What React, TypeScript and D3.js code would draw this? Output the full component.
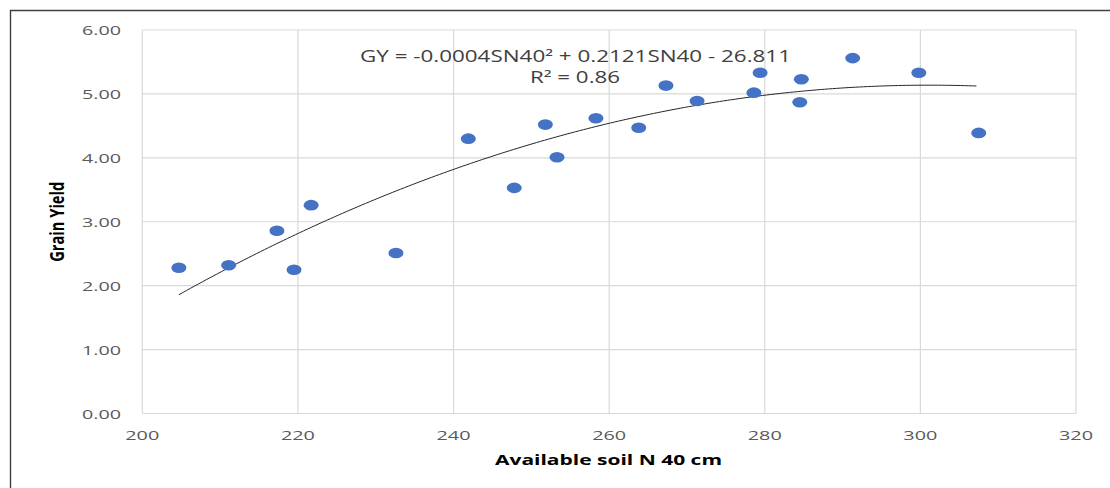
import React from "react";
import * as d3 from "d3";

// available soil N at 40 cm vs grain yield
const soilN = [
  204.7, 211.1, 217.3, 219.5, 221.7, 232.6, 241.9, 247.8, 251.8, 253.3, 258.3,
  263.8, 267.3, 271.3, 278.6, 279.4, 284.7, 284.5, 291.3, 299.8, 307.5,
];
const grainYield = [
  2.28, 2.32, 2.86, 2.25, 3.26, 2.51, 4.3, 3.53, 4.52, 4.01, 4.62, 4.47, 5.13,
  4.89, 5.02, 5.33, 5.23, 4.87, 5.56, 5.33, 4.39,
];
const xTicks = [200, 220, 240, 260, 280, 300, 320];
const yTicks = [0, 1, 2, 3, 4, 5, 6];
const equationText = "GY = -0.0004SN40² + 0.2121SN40 - 26.811";
const r2Text = "R² = 0.86";

// least squares quadratic fit for the trend line
function quadFit(xs: number[], ys: number[]) {
  const n = xs.length;
  const mx = d3.mean(xs) as number;
  let s = [0, 0, 0, 0, 0];
  let t = [0, 0, 0];
  xs.forEach((x0, i) => {
    const x = x0 - mx;
    let p = 1;
    for (let k = 0; k < 5; k++) {
      s[k] += p;
      if (k < 3) t[k] += p * ys[i];
      p *= x;
    }
  });
  // solve 3x3 normal equations
  const A = [
    [s[0], s[1], s[2], t[0]],
    [s[1], s[2], s[3], t[1]],
    [s[2], s[3], s[4], t[2]],
  ];
  for (let c = 0; c < 3; c++) {
    for (let r = c + 1; r < 3; r++) {
      const f = A[r][c] / A[c][c];
      for (let k = c; k < 4; k++) A[r][k] -= f * A[c][k];
    }
  }
  const b = [0, 0, 0];
  for (let r = 2; r >= 0; r--) {
    let v = A[r][3];
    for (let k = r + 1; k < 3; k++) v -= A[r][k] * b[k];
    b[r] = v / A[r][r];
  }
  return (x: number) => {
    const d = x - mx;
    return b[0] + b[1] * d + b[2] * d * d;
  };
  void n;
}

export default function App() {
  const width = 1110;
  const height = 488;
  const left = 142.3;
  const right = 1076;
  const top = 30;
  const bottom = 413.5;

  const x = d3.scaleLinear().domain([200, 320]).range([left, right]);
  const y = d3.scaleLinear().domain([0, 6]).range([bottom, top]);

  const fit = quadFit(soilN, grainYield);
  const xMin = d3.min(soilN) as number;
  const xMax = d3.max(soilN) as number;
  const curve = d3.range(xMin, xMax + 0.01, 0.5).map((v) => [v, fit(v)]);
  const line = d3
    .line<number[]>()
    .x((d) => x(d[0]))
    .y((d) => y(d[1]))
    .curve(d3.curveMonotoneX);

  const tickFont = "'Open Sans', sans-serif";
  const grid = "#d9d9d9";

  return (
    <svg
      width={width}
      height={height}
      style={{ position: "absolute", left: 0, top: 0, background: "#fff" }}
    >
      {/* outer frame, right and bottom edges run off the picture */}
      <path
        d={`M10.5,${height}V10.5H${width}`}
        fill="none"
        stroke="#404040"
        strokeWidth={1.4}
      />

      {/* grid */}
      {yTicks.map((t) => (
        <line key={"gy" + t} x1={left} x2={right} y1={y(t)} y2={y(t)} stroke={grid} strokeWidth={1.2} />
      ))}
      {xTicks.map((t) => (
        <line key={"gx" + t} x1={x(t)} x2={x(t)} y1={top} y2={bottom} stroke={grid} strokeWidth={1.2} />
      ))}

      {/* y tick labels */}
      {yTicks.map((t) => (
        <text
          key={"ly" + t}
          x={121}
          y={y(t) + 5}
          textAnchor="end"
          fontFamily={tickFont}
          fontSize={13.5}
          fill="#595959"
          textLength={39}
          lengthAdjust="spacingAndGlyphs"
        >
          {t.toFixed(2)}
        </text>
      ))}

      {/* x tick labels */}
      {xTicks.map((t) => (
        <text
          key={"lx" + t}
          x={x(t) - 17}
          y={440}
          fontFamily={tickFont}
          fontSize={13.5}
          fill="#595959"
          textLength={34}
          lengthAdjust="spacingAndGlyphs"
        >
          {t}
        </text>
      ))}

      {/* axis titles */}
      <text
        x={495}
        y={465}
        fontFamily={tickFont}
        fontWeight="bold"
        fontSize={15}
        fill="#000"
        textLength={227}
        lengthAdjust="spacingAndGlyphs"
      >
        Available soil N 40 cm
      </text>
      <g transform={`translate(64,${(top + bottom) / 2}) scale(1.4,1) rotate(-90)`}>
        <text
          x={-40}
          y={0}
          fontFamily={tickFont}
          fontWeight="bold"
          fontSize={14}
          fill="#000"
          textLength={80}
          lengthAdjust="spacingAndGlyphs"
        >
          Grain Yield
        </text>
      </g>

      {/* trend line */}
      <path d={line(curve) || ""} fill="none" stroke="#262626" strokeWidth={1} />

      {/* points */}
      {soilN.map((v, i) => (
        <ellipse key={"p" + i} cx={x(v)} cy={y(grainYield[i])} rx={7.5} ry={5.3} fill="#4472c4" />
      ))}

      {/* equation */}
      <text
        x={360}
        y={61.5}
        fontFamily={tickFont}
        fontSize={15.5}
        fill="#404040"
        textLength={431}
        lengthAdjust="spacingAndGlyphs"
      >
        {equationText}
      </text>
      <text
        x={530}
        y={82.5}
        fontFamily={tickFont}
        fontSize={15.5}
        fill="#404040"
        textLength={90}
        lengthAdjust="spacingAndGlyphs"
      >
        {r2Text}
      </text>
    </svg>
  );
}
